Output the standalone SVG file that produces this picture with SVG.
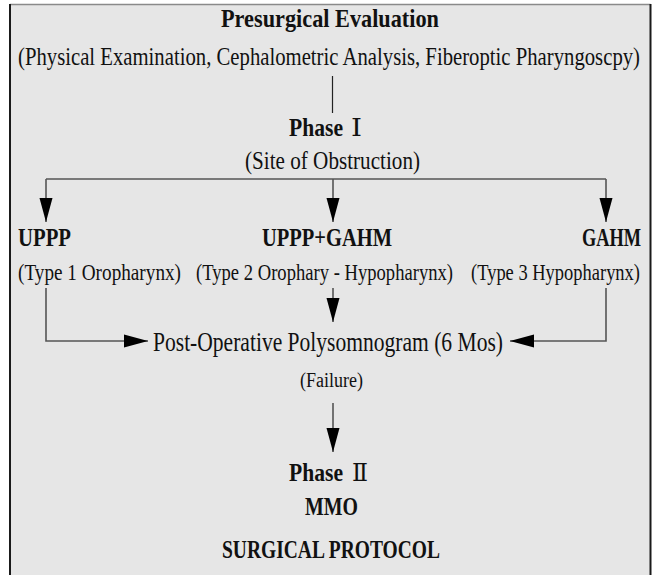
<svg xmlns="http://www.w3.org/2000/svg" width="655" height="575" viewBox="0 0 655 575">
<defs>
<style>
.t{font-family:"Liberation Serif","Times New Roman",serif;fill:#111;}
.b{font-weight:bold;}
.rn{font-family:"DejaVu Serif","Liberation Serif",serif;font-weight:normal;fill:#111;}
.ln{stroke:#555;stroke-width:1.6;fill:none;}
</style>
<marker id="arr" markerUnits="userSpaceOnUse" markerWidth="26" markerHeight="14" refX="24" refY="7" orient="auto">
<path d="M0,0.5 L24,7 L0,13.5 Z" fill="#000"/>
</marker>
</defs>
<rect x="0" y="0" width="655" height="575" fill="#ffffff"/>
<rect x="10" y="4.5" width="640.5" height="580" fill="#e6e6e6"/>
<line x1="10" y1="4.5" x2="650.5" y2="4.5" stroke="#8a8a8a" stroke-width="1.5"/>
<line x1="10" y1="4" x2="10" y2="575" stroke="#1a1a1a" stroke-width="2"/>
<line x1="650.5" y1="4" x2="650.5" y2="575" stroke="#1a1a1a" stroke-width="2"/>

<g id="connectors">
<line x1="332.5" y1="76" x2="332.5" y2="113" stroke="#222" stroke-width="1.2"/>
<path class="ln" d="M46,179 H606"/>
<path class="ln" d="M46,179 V222" marker-end="url(#arr)"/>
<path class="ln" d="M333,179 V222" marker-end="url(#arr)"/>
<path class="ln" d="M606,179 V222" marker-end="url(#arr)"/>
<path class="ln" d="M46,288 V341 H148" marker-end="url(#arr)"/>
<path class="ln" d="M606,288 V341 H510" marker-end="url(#arr)"/>
<path class="ln" d="M333,288 V322" marker-end="url(#arr)"/>
<path class="ln" d="M333,403 V452" marker-end="url(#arr)"/>
</g>

<g id="presurgical">
<text class="t b" transform="translate(221,27) scale(1,1.25)" font-size="20.8" textLength="218" lengthAdjust="spacingAndGlyphs">Presurgical Evaluation</text>
<text class="t" transform="translate(18,65) scale(1,1.25)" font-size="20" textLength="622" lengthAdjust="spacingAndGlyphs">(Physical Examination, Cephalometric Analysis, Fiberoptic Pharyngoscpy)</text>
</g>

<g id="phase1">
<text class="t b" transform="translate(289,136) scale(1,1.25)" font-size="20.8"><tspan textLength="54" lengthAdjust="spacingAndGlyphs">Phase</tspan><tspan class="rn" x="62" font-size="19.2" textLength="11" lengthAdjust="spacingAndGlyphs">Ⅰ</tspan></text>
<text class="t" transform="translate(245,169) scale(1,1.25)" font-size="20" textLength="175" lengthAdjust="spacingAndGlyphs">(Site of Obstruction)</text>
</g>

<g id="uppp">
<text class="t b" transform="translate(18,246) scale(1,1.25)" font-size="20" textLength="53" lengthAdjust="spacingAndGlyphs">UPPP</text>
<text class="t" transform="translate(18,280) scale(1,1.25)" font-size="18.4" textLength="163" lengthAdjust="spacingAndGlyphs">(Type 1 Oropharynx)</text>
</g>

<g id="uppp-gahm">
<text class="t b" transform="translate(262,246) scale(1,1.25)" font-size="20" textLength="130" lengthAdjust="spacingAndGlyphs">UPPP+GAHM</text>
<text class="t" transform="translate(196,280) scale(1,1.25)" font-size="18.4" textLength="257" lengthAdjust="spacingAndGlyphs">(Type 2 Orophary - Hypopharynx)</text>
</g>

<g id="gahm">
<text class="t b" transform="translate(582,246) scale(1,1.25)" font-size="20" textLength="59" lengthAdjust="spacingAndGlyphs">GAHM</text>
<text class="t" transform="translate(471,280) scale(1,1.25)" font-size="18.4" textLength="169" lengthAdjust="spacingAndGlyphs">(Type 3 Hypopharynx)</text>
</g>

<g id="polysomnogram">
<text class="t" transform="translate(153,351) scale(1,1.25)" font-size="21.6" textLength="350" lengthAdjust="spacingAndGlyphs">Post-Operative Polysomnogram (6 Mos)</text>
<text class="t" transform="translate(300,387) scale(1,1.25)" font-size="16" textLength="63" lengthAdjust="spacingAndGlyphs">(Failure)</text>
</g>

<g id="phase2">
<text class="t b" transform="translate(289,481) scale(1,1.25)" font-size="20.8"><tspan textLength="54" lengthAdjust="spacingAndGlyphs">Phase</tspan><tspan class="rn" x="63" font-size="19.2" textLength="16" lengthAdjust="spacingAndGlyphs">Ⅱ</tspan></text>
<text class="t b" transform="translate(305,515) scale(1,1.25)" font-size="20" textLength="53" lengthAdjust="spacingAndGlyphs">MMO</text>
</g>

<g id="title">
<text class="t b" transform="translate(222,558) scale(1,1.25)" font-size="20" textLength="218" lengthAdjust="spacingAndGlyphs">SURGICAL PROTOCOL</text>
</g>
</svg>
